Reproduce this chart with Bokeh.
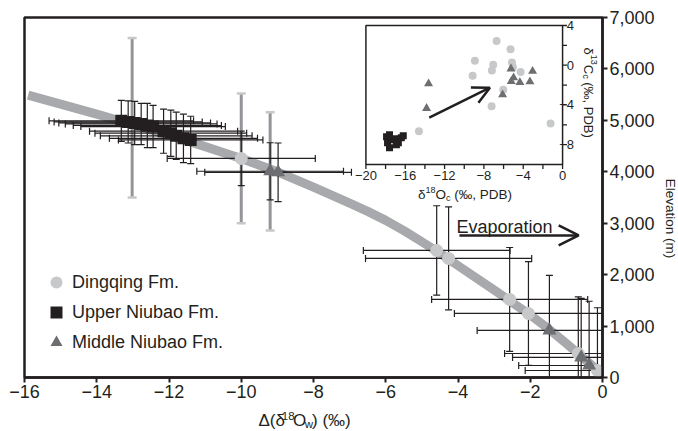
import math
from bokeh.plotting import figure
from bokeh.layouts import column, row
from bokeh.models import (Range1d, FixedTicker, Label, Arrow, OpenHead,
                          Legend, LegendItem)
from bokeh.embed import file_html
from bokeh.resources import INLINE
from bokeh.core.properties import value

FONT = "Liberation Sans"
INK = "#231f20"
C_DQ = "#c7c8ca"
C_MN = "#6d6e71"
C_UN = "#231f20"
C_CURVE = "#a7a9ac"
C_GRAY = "#939598"

# ---------------- data (main panel) ----------------
x_ticks = [-16, -14, -12, -10, -8, -6, -4, -2, 0]
x_tick_labels = ["\u221216", "\u221214", "\u221212", "\u221210", "\u22128",
                 "\u22126", "\u22124", "\u22122", "0"]
y_ticks = [0, 1000, 2000, 3000, 4000, 5000, 6000, 7000]
y_tick_labels = ["0", "1,000", "2,000", "3,000", "4,000", "5,000", "6,000", "7,000"]

curve_dx = [-15.9, -14, -12, -11, -10, -9, -8, -7, -6.5, -6, -5.5, -5, -4.5,
            -4, -3, -2, -1.5, -1, -0.5, 0]
curve_elev = [5490, 5120, 4710, 4490, 4260, 4000, 3700, 3390, 3230, 3055, 2855,
              2640, 2415, 2175, 1700, 1215, 950, 660, 360, 60]

dq_dx = [-10.0, -4.59, -4.26, -2.57, -2.05, -0.67, -0.14]
dq_elev = [4260, 2470, 2316, 1518, 1245, 467, 136]
dq_dx_err = [2.05, 2.03, 2.30, 2.16, 2.05, 2.04, 2.00]
dq_elev_err = [530, 870, 1000, 1010, 1010, 1100, 1220]

un_dx = [-13.32, -13.13, -12.95, -12.77, -12.60, -12.44,
         -12.15, -11.95, -11.80, -11.60, -11.40]
un_elev = [4990, 4970, 4950, 4930, 4900, 4880, 4790, 4750, 4700, 4650, 4620]
un_dx_err = [2.0, 2.05, 2.1, 2.1, 2.05, 2.0, 2.05, 2.1, 2.1, 2.05, 2.0]
un_elev_err = [400, 410, 420, 400, 430, 410, 430, 450, 460, 470, 460]

mn_dx = [-9.20, -8.98, -1.47, -0.59, -0.37]
mn_elev = [4010, 3990, 915, 390, 233]
mn_dx_err = [2.03, 2.03, 2.00, 1.90, 1.95]
mn_elev_err = [555, 570, 1070, 1150, 1250]

gray_dx = [-13.02, -10.0, -9.2]
gray_elev_lo = [3500, 3000, 2860]
gray_elev_hi = [6600, 5520, 5160]

evap_start = (-3.96, 2763)
evap_end = (-0.66, 2763)
evap_text_pos = (-4.04, 2925)

legend_labels = ["Dingqing Fm.", "Upper Niubao Fm.", "Middle Niubao Fm."]

# ---------------- data (inset) ----------------
ins_xticks = [-20, -16, -12, -8, -4, 0]
ins_xtick_labels = ["\u221220", "\u221216", "\u221212", "\u22128", "\u22124", "0"]
ins_xminor = [-18, -14, -10, -6, -2]
ins_yticks = [4, 0, -4, -8]
ins_ytick_labels = ["4", "0", "\u22124", "\u22128"]
ins_yminor = [2, -2, -6]

ins_dq_x = [-6.71, -5.29, -8.92, -7.05, -5.15, -5.05, -7.19, -9.15, -4.27, -6.03, -7.22, -14.61, -1.22]
ins_dq_y = [2.43, 1.62, 0.45, 0.05, 0.28, -0.2, -0.52, -1.06, -0.69, -2.47, -4.14, -6.65, -5.88]
ins_mn_x = [-5.25, -3.05, -13.63, -4.98, -5.22, -4.34, -3.32, -6.1, -13.83]
ins_mn_y = [-0.36, -0.6, -1.86, -1.26, -1.63, -1.73, -1.66, -2.97, -4.34]
ins_un_x = [-17.9, -17.8, -17.6, -17.3, -17.0, -16.7, -16.4, -16.2, -17.6, -16.9]
ins_un_y = [-7.2, -7.8, -8.3, -7.5, -7.4, -7.8, -7.3, -7.1, -7.0, -8.0]
ins_arrow_start = (-13.56, -5.28)
ins_arrow_end = (-7.39, -2.26)

# ---------------- layout sizes ----------------
W_MAIN = 657
H_MAIN = 407
W_ALL = 678
H_ALL = 431

# ---------------- main figure ----------------
p = figure(width=W_MAIN, height=H_MAIN, x_range=Range1d(-16, 0), y_range=Range1d(0, 7000),
           y_axis_location="right", output_backend="svg", toolbar_location=None,
           min_border_left=24, min_border_right=W_MAIN - 24 - 579, min_border_top=17,
           min_border_bottom=H_MAIN - 17 - 360)
p.xgrid.visible = False
p.ygrid.visible = False
p.outline_line_color = INK
p.outline_line_width = 2.5
p.background_fill_color = "white"
p.border_fill_color = "white"

# inset coordinate systems mapped onto the inset's pixel box
p.extra_x_ranges = {"ix": Range1d(-54.72, 4.06)}
p.extra_y_ranges = {"iy": Range1d(-31.45, 4.806)}

for ax in (p.xaxis[0], p.yaxis[0]):
    ax.axis_line_color = INK
    ax.axis_line_width = 2.5
    ax.major_tick_line_color = INK
    ax.major_tick_line_width = 2
    ax.major_tick_out = 5
    ax.major_tick_in = 0
    ax.minor_tick_line_color = None
    ax.major_label_text_font = FONT
    ax.major_label_text_font_size = "18px"
    ax.major_label_text_color = INK

p.xaxis.ticker = FixedTicker(ticks=x_ticks)
p.xaxis.major_label_overrides = dict(zip(x_ticks, x_tick_labels))
p.xaxis.major_label_standoff = 2
p.yaxis.ticker = FixedTicker(ticks=y_ticks)
p.yaxis.major_label_overrides = dict(zip(y_ticks, y_tick_labels))
p.yaxis.major_label_standoff = 2

# curve
p.line(curve_dx, curve_elev, line_color=C_CURVE, line_width=9, line_join="round")

# gray (total) vertical error bars
p.segment(x0=gray_dx, y0=gray_elev_lo, x1=gray_dx, y1=gray_elev_hi,
          line_color=C_GRAY, line_width=3)
p.scatter(x=gray_dx + gray_dx, y=gray_elev_lo + gray_elev_hi, marker="dash",
          size=9, line_color="#c8c8c8", line_width=2.5)


def errbars(xs, ys, xe, ye, color=INK, lw=1.2, cap=7):
    x_lo = [x - e for x, e in zip(xs, xe)]
    x_hi = [x + e for x, e in zip(xs, xe)]
    y_lo = [y - e for y, e in zip(ys, ye)]
    y_hi = [y + e for y, e in zip(ys, ye)]
    p.segment(x0=x_lo, y0=ys, x1=x_hi, y1=ys, line_color=color, line_width=lw)
    p.scatter(x=x_lo + x_hi, y=ys + ys, marker="dash", angle=math.pi / 2,
              size=cap, line_color=color, line_width=lw)
    p.segment(x0=xs, y0=y_lo, x1=xs, y1=y_hi, line_color=color, line_width=lw)
    p.scatter(x=xs + xs, y=y_lo + y_hi, marker="dash", size=cap,
              line_color=color, line_width=lw)


errbars(un_dx, un_elev, un_dx_err, un_elev_err)
errbars(dq_dx, dq_elev, dq_dx_err, dq_elev_err)
errbars(mn_dx, mn_elev, mn_dx_err, mn_elev_err)

r_un = p.scatter(un_dx, un_elev, marker="square", size=12, fill_color=C_UN, line_color=None)
r_dq = p.scatter(dq_dx, dq_elev, marker="circle", size=13, fill_color=C_DQ, line_color=None)
r_mn = p.scatter(mn_dx, mn_elev, marker="triangle", size=14, fill_color=C_MN, line_color=None)

# evaporation arrow + text
p.add_layout(Arrow(x_start=evap_start[0], y_start=evap_start[1],
                   x_end=evap_end[0], y_end=evap_end[1], line_color=INK,
                   line_width=2.5,
                   end=OpenHead(size=20, line_width=2.5, line_color=INK)))
p.add_layout(Label(x=evap_text_pos[0], y=evap_text_pos[1], text="Evaporation",
                   text_font=FONT, text_font_size="18px", text_color=INK,
                   text_baseline="alphabetic"))

# legend
legend = Legend(items=[LegendItem(label=legend_labels[0], renderers=[r_dq]),
                       LegendItem(label=legend_labels[1], renderers=[r_un]),
                       LegendItem(label=legend_labels[2], renderers=[r_mn])],
                location=(17, 20), glyph_width=30, glyph_height=30,
                label_standoff=1, spacing=0, padding=0, margin=0,
                border_line_color=None, background_fill_alpha=0,
                label_text_font=FONT, label_text_font_size="18px",
                label_text_color=INK)
p.add_layout(legend)

# ---------------- inset ----------------
IR = dict(x_range_name="ix", y_range_name="iy")
p.quad(left=[ins_xticks[0]], right=[ins_xticks[-1]], bottom=[-10], top=[ins_yticks[0]],
       fill_color="white", line_color=INK, line_width=1.5, **IR)
tick_len = 0.45
p.segment(x0=ins_xticks + ins_xminor, y0=[-10] * 11, x1=ins_xticks + ins_xminor,
          y1=[-10 - tick_len] * 11, line_color=INK, line_width=1.3, **IR)
p.segment(x0=[0] * 7, y0=ins_yticks + ins_yminor, x1=[tick_len] * 7,
          y1=ins_yticks + ins_yminor, line_color=INK, line_width=1.3, **IR)
p.text(x=ins_xticks, y=[-11.1] * len(ins_xticks), text=ins_xtick_labels,
       text_align="center", text_baseline="middle", text_font=value(FONT),
       text_font_size="13px", text_color=INK, **IR)
p.text(x=[1.17] * len(ins_yticks), y=ins_yticks, text=ins_ytick_labels,
       text_align="right", text_baseline="middle", text_font=value(FONT),
       text_font_size="13px", text_color=INK, **IR)

p.scatter(ins_un_x, ins_un_y, marker="square", size=7, fill_color=C_UN, line_color=None, **IR)
p.scatter(ins_dq_x, ins_dq_y, marker="circle", size=8, fill_color=C_DQ, line_color=None, **IR)
p.scatter(ins_mn_x, ins_mn_y, marker="triangle", size=9, fill_color=C_MN, line_color=None, **IR)
p.add_layout(Arrow(x_start=ins_arrow_start[0], y_start=ins_arrow_start[1],
                   x_end=ins_arrow_end[0], y_end=ins_arrow_end[1], line_color=INK,
                   line_width=2.5,
                   end=OpenHead(size=17, line_width=2.5, line_color=INK), **IR))

# ---------------- composite (super/subscript) labels ----------------
WID = {' ': 278, '\u00a0': 278, '(': 333, ')': 333, ',': 278, '.': 278, 'O': 778,
       'C': 722, 'P': 667, 'D': 722, 'B': 667, 'c': 500, 'w': 722, '\u2030': 1000,
       '\u0394': 668, '\u03b4': 556}


def twidth(s, size):
    return sum(WID.get(ch, 556) for ch in s) * size / 1000.0


def compose(pieces, x, y, sx, sy, rotated=False, xr="default", yr="default"):
    pos = 0.0
    for text, size, shift in pieces:
        if rotated:
            xo, yo, ang = sx + shift, sy - pos, -math.pi / 2
        else:
            xo, yo, ang = sx + pos, sy + shift, 0.0
        p.add_layout(Label(x=x, y=y, x_offset=xo, y_offset=yo, text=text, angle=ang,
                           text_font=FONT, text_font_size=f"{size}px",
                           text_color=INK, text_baseline="alphabetic",
                           text_align="left", x_range_name=xr, y_range_name=yr))
        pos += twidth(text, size)
    return pos


# inset x title  δ18Oc (‰, PDB)
ix_pieces = [("\u03b4", 13.5, 0), ("18", 9, 5), ("O", 13.5, 0), ("c", 9, -3),
             ("\u00a0(\u2030, PDB)", 13.5, 0)]
ix_w = sum(twidth(t, s) for t, s, _ in ix_pieces)
compose(ix_pieces, -20, -10, (465 - 366) - ix_w / 2, -30, xr="ix", yr="iy")

# inset y title  δ13Cc (‰, PDB)
compose([("\u03b4", 13, 0), ("13", 9, 5), ("C", 13, 0), ("c", 9, -3),
         ("\u00a0(\u2030, PDB)", 13, 0)], 0, 4, 26, -22, rotated=True, xr="ix", yr="iy")


def strip(w, h):
    f = figure(width=w, height=h, x_range=Range1d(0, w), y_range=Range1d(0, h),
               x_axis_location=None, y_axis_location=None, output_backend="svg",
               toolbar_location=None, min_border_left=0, min_border_right=0,
               min_border_top=0, min_border_bottom=0)
    f.outline_line_color = None
    f.xgrid.visible = False
    f.ygrid.visible = False
    f.border_fill_color = "white"
    f.background_fill_color = "white"
    return f


# ---------------- x-axis title strip (Δ(δ18Ow) (‰)) ----------------
T_H = H_ALL - H_MAIN
t = strip(W_MAIN, T_H)
xt_pieces = [("\u0394(\u03b4", 17, 0), ("18", 11.5, 5), ("O", 17, 0), ("w", 11.5, -3),
             (")\u00a0(\u2030)", 17, 0)]
xs, ys, txt, fs = [], [], [], []
pos = 266.0
base = H_ALL - 420
for text, size, shift in xt_pieces:
    xs.append(pos)
    ys.append(base + shift)
    txt.append(text)
    fs.append(f"{size}px")
    pos += twidth(text, size)
t.text(x=xs, y=ys, text=txt, text_font_size=fs, text_font=value(FONT),
       text_color=INK, text_align="left", text_baseline="alphabetic")

# ---------------- right-axis title strip (Elevation (m)) ----------------
r = strip(W_ALL - W_MAIN, H_ALL)
r.text(x=[670 - W_MAIN], y=[H_ALL - 218], text=["Elevation (m)"], angle=-math.pi / 2,
       text_align="center", text_baseline="middle", text_font=value(FONT),
       text_font_size="13.5px", text_color=INK)

layout = row(column(p, t, spacing=0), r, spacing=0)
open("out.html", "w").write(file_html(layout, INLINE))
